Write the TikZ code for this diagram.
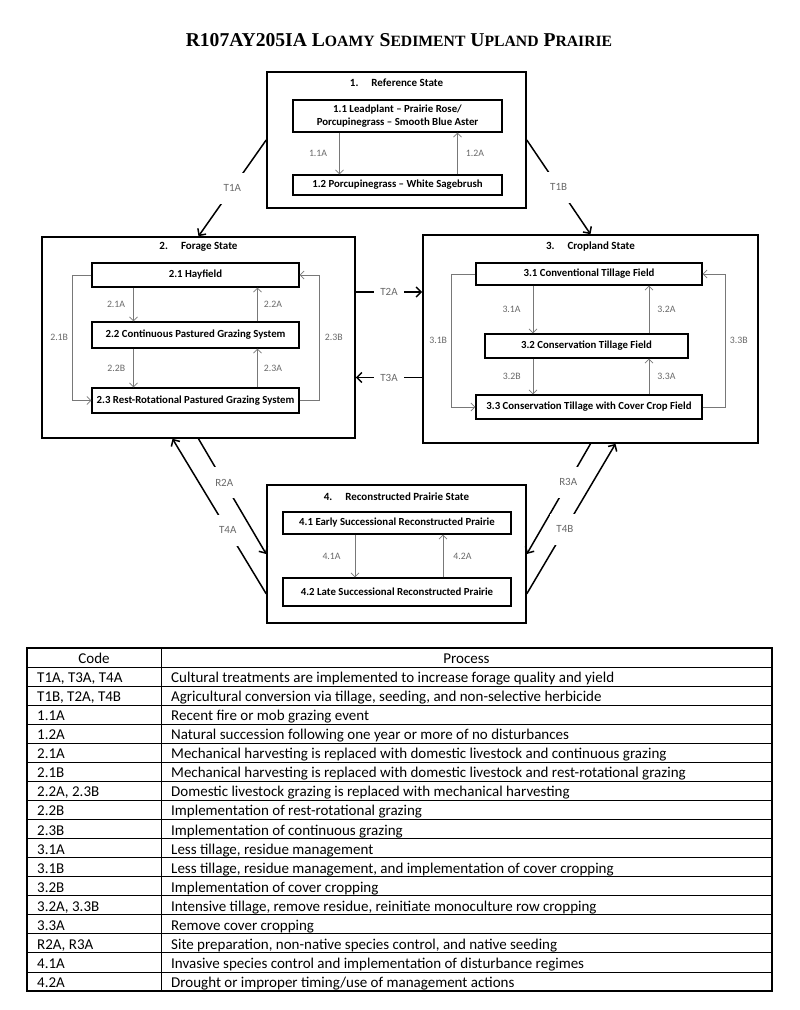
\documentclass[tikz,border=0pt]{standalone}
\usepackage{fontspec}
\setmainfont{Carlito}
\newfontfamily\titlefont{Liberation Serif}
\usetikzlibrary{arrows.meta}
\definecolor{arrowgray}{RGB}{120,120,120}
\definecolor{labelgray}{RGB}{105,105,105}
\newcommand\capsword[2]{#1{\fontsize{15.7}{16}\selectfont#2}}

\begin{document}
\begin{tikzpicture}[x=1pt,y=-1pt,
    statebox/.style={draw,line width=1.6pt},
    commbox/.style={draw,line width=1.1pt,align=center,font=\bfseries\fontsize{10.8}{12.5}\selectfont},
    statetitle/.style={font=\bfseries\fontsize{11}{13}\selectfont},
    lbl/.style={text=labelgray,inner sep=0pt,font=\fontsize{9.8}{11}\selectfont},
    tlbl/.style={text=labelgray,fill=white,inner xsep=6pt,inner ysep=12pt,font=\fontsize{11}{13}\selectfont},
    inarr/.style={arrowgray,line width=0.8pt,-{Straight Barb[length=4pt,width=8pt]}},
    trarr/.style={line width=1.5pt,-{Straight Barb[length=5pt,width=10pt]}},
    cell/.style={inner sep=0pt,font=\fontsize{15}{17}\selectfont}]
    \useasboundingbox (0,0) rectangle (800,1010);
    %% title
    \node[anchor=base,font=\titlefont\bfseries\fontsize{19.6}{22}\selectfont] (title) at (399,46)
        {R107AY205IA \capsword{L}{OAMY} \capsword{S}{EDIMENT} \capsword{U}{PLAND} \capsword{P}{RAIRIE}};
    %% state 1
    \node[statebox,minimum width=259,minimum height=136] (st1) at (396.5,140) {};
    \node[statetitle] at ([yshift=-12pt]st1.north) {1.\hspace{13pt}Reference State};
    \node[commbox,minimum width=209,minimum height=32] (s11) at (397.5,116)
        {1.1 Leadplant – Prairie Rose/\\Porcupinegrass – Smooth Blue Aster};
    \node[commbox,minimum width=209,minimum height=20] (s12) at (397.5,185) {1.2 Porcupinegrass – White Sagebrush};
    \draw[inarr] ([xshift=-58pt]s11.south) -- node[lbl,left=12pt] {1.1A} ([xshift=-58pt]s12.north);
    \draw[inarr] ([xshift=60pt]s12.north) -- node[lbl,right=8pt] {1.2A} ([xshift=60pt]s11.south);
    %% state 2
    \node[statebox,minimum width=313,minimum height=201] (st2) at (198.5,337.5) {};
    \node[statetitle] at ([yshift=-11pt]st2.north) {2.\hspace{13pt}Forage State};
    \node[commbox,minimum width=207,minimum height=24] (s21) at (195.5,275) {2.1 Hayfield};
    \node[commbox,minimum width=207,minimum height=26] (s22) at (195.5,335) {2.2 Continuous Pastured Grazing System};
    \node[commbox,minimum width=207,minimum height=25] (s23) at (195.5,400.5) {2.3 Rest-Rotational Pastured Grazing System};
    \draw[inarr] ([xshift=-62pt]s21.south) -- node[lbl,left=8pt] {2.1A} ([xshift=-62pt]s22.north);
    \draw[inarr] ([xshift=62pt]s22.north) -- node[lbl,right=6pt] {2.2A} ([xshift=62pt]s21.south);
    \draw[inarr] ([xshift=-62pt]s22.south) -- node[lbl,left=8pt] {2.2B} ([xshift=-62pt]s23.north);
    \draw[inarr] ([xshift=62pt]s23.north) -- node[lbl,right=6pt] {2.3A} ([xshift=62pt]s22.south);
    \draw[inarr] (s21.west) -- ++(-19,0) |- node[pos=0.25,lbl,left=4pt] {2.1B} (s23.west);
    \draw[inarr] (s23.east) -- ++(20,0) |- node[pos=0.25,lbl,right=5pt] {2.3B} (s21.east);
    %% state 3
    \node[statebox,minimum width=335,minimum height=208] (st3) at (590.5,339) {};
    \node[statetitle] at ([yshift=-12pt]st3.north) {3.\hspace{13pt}Cropland State};
    \node[commbox,minimum width=226,minimum height=22] (s31) at (589,274) {3.1 Conventional Tillage Field};
    \node[commbox,minimum width=203,minimum height=24] (s32) at (586.5,346) {3.2 Conservation Tillage Field};
    \node[commbox,minimum width=226,minimum height=24] (s33) at (589,407) {3.3 Conservation Tillage with Cover Crop Field};
    \coordinate (c3l) at ([xshift=-56pt]s31.south);
    \coordinate (c3r) at ([xshift=60pt]s31.south);
    \draw[inarr] (s31.south -| c3l) -- node[lbl,left=12pt] {3.1A} (s32.north -| c3l);
    \draw[inarr] (s32.north -| c3r) -- node[lbl,right=8pt] {3.2A} (s31.south -| c3r);
    \draw[inarr] (s32.south -| c3l) -- node[lbl,left=12pt] {3.2B} (s33.north -| c3l);
    \draw[inarr] (s33.north -| c3r) -- node[lbl,right=8pt] {3.3A} (s32.south -| c3r);
    \draw[inarr] (s31.west) -- ++(-24,0) |- node[pos=0.25,lbl,left=4pt] {3.1B} (s33.west);
    \draw[inarr] (s33.east) -- ++(23,0) |- node[pos=0.25,lbl,right=4pt] {3.3B} (s31.east);
    %% state 4
    \node[statebox,minimum width=259,minimum height=138] (st4) at (396.5,554) {};
    \node[statetitle] at ([yshift=-12pt]st4.north) {4.\hspace{13pt}Reconstructed Prairie State};
    \node[commbox,minimum width=228,minimum height=22] (s41) at (397,523) {4.1 Early Successional Reconstructed Prairie};
    \node[commbox,minimum width=228,minimum height=28] (s42) at (397,592) {4.2 Late Successional Reconstructed Prairie};
    \draw[inarr] ([xshift=-42pt]s41.south) -- node[lbl,left=14pt] {4.1A} ([xshift=-42pt]s42.north);
    \draw[inarr] ([xshift=46pt]s42.north) -- node[lbl,right=10pt] {4.2A} ([xshift=46pt]s41.south);
    %% transitions between states
    \draw[trarr] (st1.west) -- node[tlbl] {T1A} (st2.north);
    \draw[trarr] (st1.east) -- node[tlbl] {T1B} (st3.north);
    \coordinate (t2a) at ([yshift=45.5pt]st2.east);
    \draw[trarr] (t2a) -- node[tlbl] {T2A} (t2a -| st3.west);
    \coordinate (t3a) at ([yshift=-38.5pt]st3.west);
    \draw[trarr] (t3a) -- node[tlbl] {T3A} (t3a -| st2.east);
    \draw[trarr] (st2.south) -- node[tlbl,pos=0.38] {R2A} (st4.west);
    \draw[trarr] ([yshift=30pt]st4.south west) -- node[tlbl,pos=0.41] {T4A} ([xshift=-26pt]st2.south);
    \draw[trarr] (st3.south) -- node[tlbl,pos=0.35] {R3A} (st4.east);
    \draw[trarr] ([yshift=30pt]st4.south east) -- node[tlbl,pos=0.43] {T4B} ([xshift=25pt]st3.south);
    %% process table
    \draw[line width=1.2pt] (27,648) rectangle (772,991);
    \draw[line width=1pt] (161,648) -- (161,991);
    \foreach \i in {1,...,17}
        \draw[line width=1pt] (27,{648+19.06*\i}) -- (772,{648+19.06*\i});
    \node[cell,anchor=base] at (94,663.5) {Code};
    \node[cell,anchor=base] at (466.5,663.5) {Process};
    \foreach \code/\proc [count=\i] in {
        {T1A, T3A, T4A}/{Cultural treatments are implemented to increase forage quality and yield},
        {T1B, T2A, T4B}/{Agricultural conversion via tillage, seeding, and non-selective herbicide},
        1.1A/{Recent fire or mob grazing event},
        1.2A/{Natural succession following one year or more of no disturbances},
        2.1A/{Mechanical harvesting is replaced with domestic livestock and continuous grazing},
        2.1B/{Mechanical harvesting is replaced with domestic livestock and rest-rotational grazing},
        {2.2A, 2.3B}/{Domestic livestock grazing is replaced with mechanical harvesting},
        2.2B/{Implementation of rest-rotational grazing},
        2.3B/{Implementation of continuous grazing},
        3.1A/{Less tillage, residue management},
        3.1B/{Less tillage, residue management, and implementation of cover cropping},
        3.2B/{Implementation of cover cropping},
        {3.2A, 3.3B}/{Intensive tillage, remove residue, reinitiate monoculture row cropping},
        3.3A/{Remove cover cropping},
        {R2A, R3A}/{Site preparation, non-native species control, and native seeding},
        4.1A/{Invasive species control and implementation of disturbance regimes},
        4.2A/{Drought or improper timing/use of management actions}}{
        \node[cell,anchor=base west] at (37,{648+19.06*\i+15.5}) {\code};
        \node[cell,anchor=base west] at (171,{648+19.06*\i+15.5}) {\proc};
    }
\end{tikzpicture}
\end{document}
